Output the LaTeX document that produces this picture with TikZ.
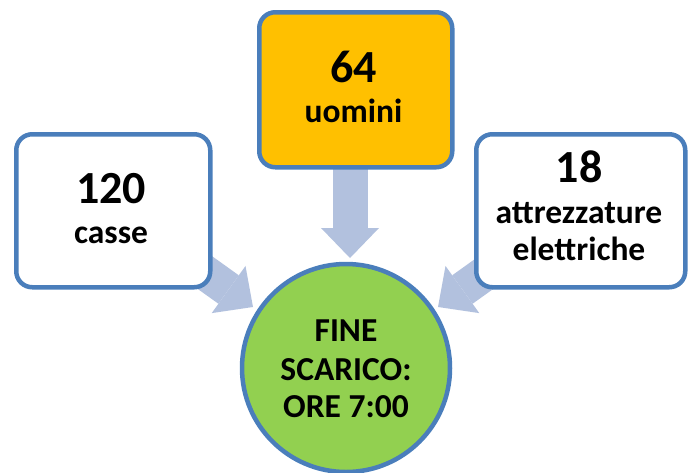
\documentclass[tikz,border=0pt]{standalone}
\usepackage{fontspec}
\setmainfont{Carlito}
\usetikzlibrary{arrows.meta}
\definecolor{bordo}{RGB}{74,126,187}
\definecolor{oro}{RGB}{255,192,0}
\definecolor{verde}{RGB}{146,208,80}
\definecolor{freccia}{RGB}{178,193,222}
\begin{document}
\begin{tikzpicture}[x=1pt,y=-1pt,
  boxst/.style={draw=bordo,line width=4.5pt,rounded corners=16pt,inner sep=0pt,anchor=north west},
  numst/.style={font=\bfseries\fontsize{46}{46}\selectfont,anchor=base,inner sep=0pt},
  wordst/.style={font=\bfseries\fontsize{33.5}{33.5}\selectfont,anchor=base,inner sep=0pt},
  bigarrow/.style={draw=freccia,line width=35pt,-{Triangle[width=58pt,length=30pt,line width=0pt]}}]
\useasboundingbox (0,0) rectangle (688,472);
% arrow ends
\coordinate (ta) at (350,150);
\coordinate (tb) at (350,258);
\coordinate (la) at (179,254);
\coordinate (lb) at (253,307);
\coordinate (ra) at (512,254);
\coordinate (rb) at (438,307);
\draw[bigarrow] (ta) -- (tb);
\draw[bigarrow] (la) -- (lb);
\draw[bigarrow] (ra) -- (rb);
% boxes
\node[boxst,fill=white,minimum width=194pt,minimum height=153pt] (lbox) at (14,132) {};
\node[boxst,fill=oro,minimum width=193pt,minimum height=155pt] (tbox) at (257,10) {};
\node[boxst,fill=white,minimum width=209pt,minimum height=153pt] (rbox) at (474,132) {};
\node[circle,draw=bordo,line width=4.5pt,fill=verde,minimum size=208pt,inner sep=0pt] (fine) at (346,368) {};
% texts
\node[numst] (n120) at (111,203) {120};
\node[wordst] (wcasse) at (111,243) {casse};
\node[numst] (n64) at (353.5,82) {64};
\node[wordst] (wuomini) at (353.5,122) {uomini};
\node[numst] (n18) at (579,182) {18};
\node[wordst] (wattr) at (579,223) {attrezzature};
\node[wordst] (welet) at (579,260) {elettriche};
\node[wordst] (c1) at (346,341) {FINE};
\node[wordst] (c2) at (346,380) {SCARICO:};
\node[wordst] (c3) at (346,417) {ORE 7:00};
\end{tikzpicture}
\end{document}
